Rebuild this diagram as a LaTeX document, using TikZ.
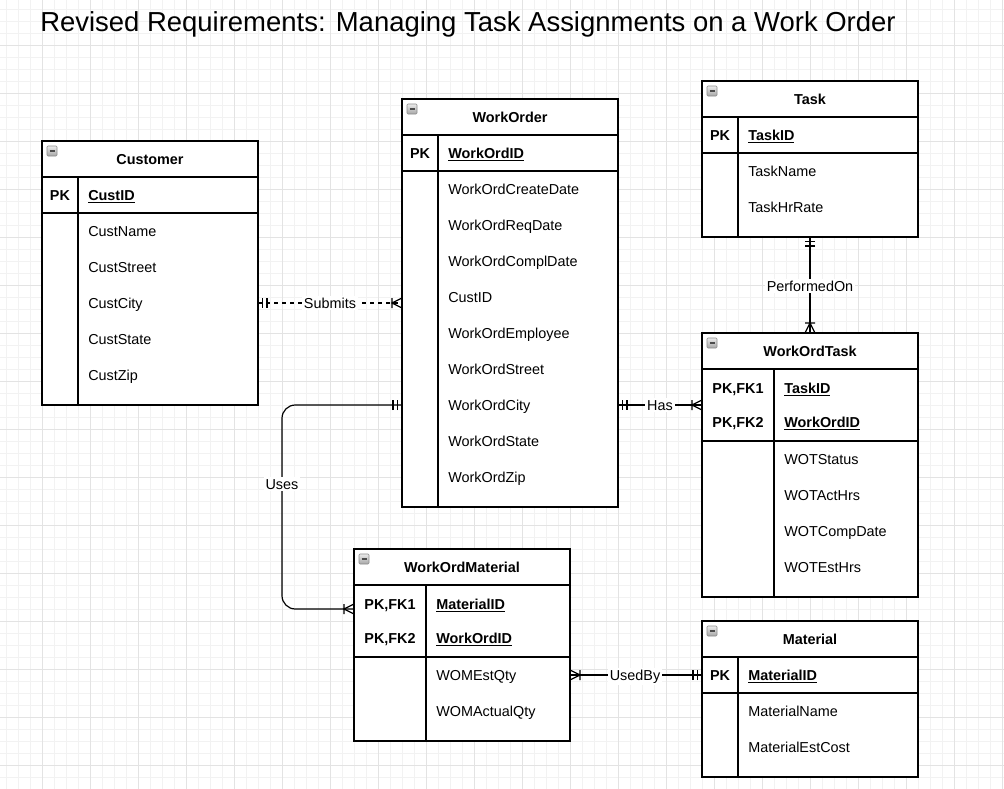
\documentclass[tikz,border=0pt]{standalone}
\usepackage{fontspec}
\setmainfont{Liberation Sans}
\usetikzlibrary{calc}
\tikzset{
  gridminor/.style={line width=0.5pt, color=black!5},
  gridmajor/.style={line width=0.5pt, color=black!11},
  ent/.style={line width=0.9pt, fill=white},
  erline/.style={line width=0.9pt},
  hdr/.style={font=\fontsize{10.8}{13}\selectfont\bfseries, inner sep=0pt, anchor=base, yshift=-3.8pt},
  keyl/.style={font=\fontsize{10.8}{13}\selectfont\bfseries, inner sep=0pt, anchor=base, yshift=-3.8pt},
  attr/.style={font=\fontsize{10.8}{13}\selectfont, anchor=base west, inner sep=0pt, yshift=-3.8pt},
  pkattr/.style={attr, font=\fontsize{10.8}{13}\selectfont\bfseries},
  rel/.style={font=\fontsize{10.8}{13}\selectfont, fill=white, inner sep=1.5pt, anchor=base, yshift=-3.8pt}
}
\def\minusicon(#1,#2){\draw[rounded corners=0.8, draw=black!45, top color=black!8, bottom color=black!35, line width=0.4pt] (#1+5,#2+5) rectangle (#1+15,#2+15);
  \draw[line width=1pt, color=black!70] (#1+7.5,#2+10) -- (#1+12.5,#2+10);}
\def\mandone(#1:#2){\begin{scope}[shift={(#1)}, rotate=#2]\draw[erline] (4.5,-5) -- (4.5,5) (9,-5) -- (9,5);\end{scope}}
\def\onemany(#1:#2){\begin{scope}[shift={(#1)}, rotate=#2]\draw[erline] (10,-5) -- (10,5) (0,-5) -- (10,0) -- (0,5);\end{scope}}

\begin{document}
\begin{tikzpicture}[x=0.75pt, y=-0.75pt]
			%%%%% START %%%%%
			\useasboundingbox[fill=white] (0,0) rectangle (1004,789);
			
			\foreach \gx in {6,18,...,1002} \draw[gridminor] (\gx,0) -- (\gx,789);
			\foreach \gy in {9,21,...,789} \draw[gridminor] (0,\gy) -- (1004,\gy);
			\foreach \gx in {42,90,...,1002} \draw[gridmajor] (\gx,0) -- (\gx,789);
			\foreach \gy in {45,93,...,765} \draw[gridmajor] (0,\gy) -- (1004,\gy);
			
			\node[anchor=base west, inner sep=0pt, font=\fontsize{20.6}{25}\selectfont] (title) at (40,31) {Revised Requirements: Managing Task Assignments on a Work Order};
			
			%%%%% CONNECTOR ENDS %%%%%
			\coordinate (custR) at (258,303);
			\coordinate (woL1) at (402,303);
			\coordinate (woL2) at (402,405);
			\coordinate (woR) at (618,405);
			\coordinate (usesA) at (282,405);
			\coordinate (usesB) at (282,609);
			\coordinate (womL) at (354,609);
			\coordinate (womR) at (570,675);
			\coordinate (taskB) at (810,237);
			\coordinate (wotT) at (810,333);
			\coordinate (wotL) at (702,405);
			\coordinate (matL) at (702,675);
			
			\draw[erline, dashed] (custR) -- (woL1);
			\draw[erline, rounded corners=10] (woL2) -- (usesA) -- (usesB) -- (womL);
			\draw[erline] (woR) -- (wotL);
			\draw[erline] (taskB) -- (wotT);
			\draw[erline] (womR) -- (matL);
			
			\mandone(custR:0)
			\onemany(woL1:180)
			\mandone(woL2:180)
			\onemany(womL:180)
			\mandone(woR:0)
			\onemany(wotL:180)
			\mandone(taskB:-90)
			\onemany(wotT:90)
			\onemany(womR:0)
			\mandone(matL:180)
			
			\node[rel] (submits) at ($(custR)!0.5!(woL1)$) {Submits};
			\node[rel] (uses) at (282,484) {Uses};
			\node[rel] (has) at (660,405) {Has};
			\node[rel] (performed) at (810,286) {PerformedOn};
			\node[rel] (usedby) at (635,675) {UsedBy};
			
			%%%%% CUSTOMER %%%%%
			\draw[ent] (42,141) rectangle (258,405);
			\draw[erline] (42,177) -- (258,177);
			\draw[erline] (42,213) -- (258,213);
			\draw[erline] (78,177) -- (78,405);
			\minusicon(42,141)
			\node[hdr] (custH) at (150,159) {Customer};
			\node[keyl] (custK) at (60,195) {PK};
			\node[pkattr] (custID) at (88,195) {\underline{CustID}};
			\node[attr] (custName) at (88,231) {CustName};
			\node[attr] (custStreet) at (88,267) {CustStreet};
			\node[attr] (custCity) at (88,303) {CustCity};
			\node[attr] (custState) at (88,339) {CustState};
			\node[attr] (custZip) at (88,375) {CustZip};
			
			%%%%% WORKORDER %%%%%
			\draw[ent] (402,99) rectangle (618,507);
			\draw[erline] (402,135) -- (618,135);
			\draw[erline] (402,171) -- (618,171);
			\draw[erline] (438,135) -- (438,507);
			\minusicon(402,99)
			\node[hdr] (woH) at (510,117) {WorkOrder};
			\node[keyl] (woK) at (420,153) {PK};
			\node[pkattr] (woID) at (448,153) {\underline{WorkOrdID}};
			\node[attr] (woCreate) at (448,189) {WorkOrdCreateDate};
			\node[attr] (woReq) at (448,225) {WorkOrdReqDate};
			\node[attr] (woCompl) at (448,261) {WorkOrdComplDate};
			\node[attr] (woCust) at (448,297) {CustID};
			\node[attr] (woEmp) at (448,333) {WorkOrdEmployee};
			\node[attr] (woStreet) at (448,369) {WorkOrdStreet};
			\node[attr] (woCity) at (448,405) {WorkOrdCity};
			\node[attr] (woState) at (448,441) {WorkOrdState};
			\node[attr] (woZip) at (448,477) {WorkOrdZip};
			
			%%%%% TASK %%%%%
			\draw[ent] (702,81) rectangle (918,237);
			\draw[erline] (702,117) -- (918,117);
			\draw[erline] (702,153) -- (918,153);
			\draw[erline] (738,117) -- (738,237);
			\minusicon(702,81)
			\node[hdr] (taskH) at (810,99) {Task};
			\node[keyl] (taskK) at (720,135) {PK};
			\node[pkattr] (taskID) at (748,135) {\underline{TaskID}};
			\node[attr] (taskName) at (748,171) {TaskName};
			\node[attr] (taskRate) at (748,207) {TaskHrRate};
			
			%%%%% WORKORDTASK %%%%%
			\draw[ent] (702,333) rectangle (918,597);
			\draw[erline] (702,369) -- (918,369);
			\draw[erline] (702,441) -- (918,441);
			\draw[erline] (774,369) -- (774,597);
			\minusicon(702,333)
			\node[hdr] (wotH) at (810,351) {WorkOrdTask};
			\node[keyl] (wotK1) at (738,388) {PK,FK1};
			\node[keyl] (wotK2) at (738,422) {PK,FK2};
			\node[pkattr] (wotTask) at (784,388) {\underline{TaskID}};
			\node[pkattr] (wotWo) at (784,422) {\underline{WorkOrdID}};
			\node[attr] (wotStatus) at (784,459) {WOTStatus};
			\node[attr] (wotAct) at (784,495) {WOTActHrs};
			\node[attr] (wotComp) at (784,531) {WOTCompDate};
			\node[attr] (wotEst) at (784,567) {WOTEstHrs};
			
			%%%%% WORKORDMATERIAL %%%%%
			\draw[ent] (354,549) rectangle (570,741);
			\draw[erline] (354,585) -- (570,585);
			\draw[erline] (354,657) -- (570,657);
			\draw[erline] (426,585) -- (426,741);
			\minusicon(354,549)
			\node[hdr] (womH) at (462,567) {WorkOrdMaterial};
			\node[keyl] (womK1) at (390,604) {PK,FK1};
			\node[keyl] (womK2) at (390,638) {PK,FK2};
			\node[pkattr] (womMat) at (436,604) {\underline{MaterialID}};
			\node[pkattr] (womWo) at (436,638) {\underline{WorkOrdID}};
			\node[attr] (womEst) at (436,675) {WOMEstQty};
			\node[attr] (womAct) at (436,711) {WOMActualQty};
			
			%%%%% MATERIAL %%%%%
			\draw[ent] (702,621) rectangle (918,777);
			\draw[erline] (702,657) -- (918,657);
			\draw[erline] (702,693) -- (918,693);
			\draw[erline] (738,657) -- (738,777);
			\minusicon(702,621)
			\node[hdr] (matH) at (810,639) {Material};
			\node[keyl] (matK) at (720,675) {PK};
			\node[pkattr] (matID) at (748,675) {\underline{MaterialID}};
			\node[attr] (matName) at (748,711) {MaterialName};
			\node[attr] (matCost) at (748,747) {MaterialEstCost};
			
			%%%%% END %%%%%
\end{tikzpicture}
\end{document}
